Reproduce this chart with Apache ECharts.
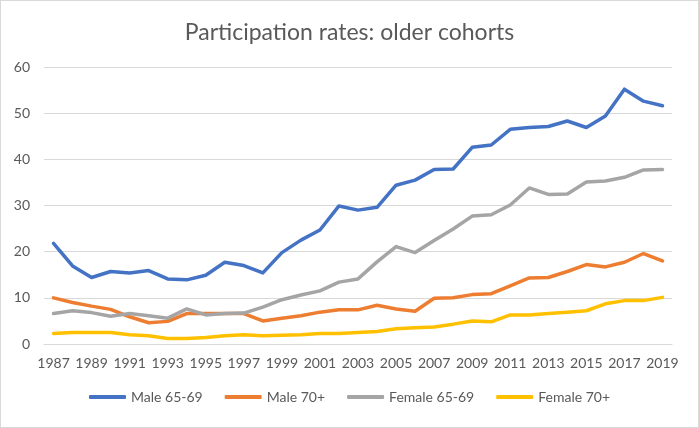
<!DOCTYPE html>
<html>
<head>
<meta charset="utf-8">
<script src="https://cdn.jsdelivr.net/npm/echarts@6/dist/echarts.min.js"></script>
<style>
html,body{margin:0;padding:0;background:#fff;}
#c{width:699px;height:428px;box-sizing:border-box;border:1px solid #d9d9d9;}
</style>
</head>
<body>
<div id="c"></div>
<script>
const years = ['1987','1988','1989','1990','1991','1992','1993','1994','1995','1996','1997','1998','1999','2000','2001','2002','2003','2004','2005','2006','2007','2008','2009','2010','2011','2012','2013','2014','2015','2016','2017','2018','2019'];
const male6569 = [21.8,16.9,14.4,15.7,15.4,15.9,14.1,13.9,14.9,17.7,17.0,15.4,19.8,22.5,24.7,29.9,29.0,29.6,34.4,35.5,37.8,37.9,42.6,43.1,46.5,46.9,47.1,48.3,46.9,49.4,55.2,52.6,51.6];
const male70 = [10.0,9.0,8.2,7.5,5.9,4.6,4.9,6.6,6.6,6.6,6.6,5.0,5.6,6.1,6.9,7.4,7.4,8.4,7.6,7.1,9.9,10.0,10.7,10.9,12.6,14.3,14.4,15.7,17.2,16.7,17.7,19.6,18.0];
const female6569 = [6.6,7.2,6.8,6.0,6.6,6.1,5.6,7.6,6.3,6.6,6.7,8.0,9.6,10.6,11.5,13.4,14.1,17.8,21.1,19.8,22.4,24.9,27.7,28.0,30.1,33.8,32.4,32.5,35.1,35.3,36.1,37.7,37.8];
const female70 = [2.3,2.5,2.5,2.5,2.0,1.8,1.2,1.2,1.4,1.8,2.0,1.8,1.9,2.0,2.3,2.3,2.5,2.7,3.3,3.5,3.7,4.3,5.0,4.8,6.3,6.3,6.6,6.9,7.2,8.7,9.4,9.4,10.1];
const seriesNames = ['Male 65-69','Male 70+','Female 65-69','Female 70+'];
const colors = ['#4472C4','#ED7D31','#A5A5A5','#FFC000'];
const dataSets = [male6569, male70, female6569, female70];

const chart = echarts.init(document.getElementById('c'));
const font = 'Lato, "Open Sans", sans-serif';
chart.setOption({
  animation: false,
  title: {
    text: 'Participation rates: older cohorts',
    left: 'center', top: 15,
    textStyle: { fontFamily: font, fontSize: 23, fontWeight: 'normal', color: '#595959' }
  },
  grid: { left: 43, right: 26, top: 66, bottom: 83, containLabel: false },
  legend: {
    bottom: 18, left: 'center',
    icon: 'roundRect',
    itemWidth: 37, itemHeight: 4, itemGap: 22,
    textStyle: { fontFamily: font, fontSize: 14, color: '#595959' },
    data: seriesNames
  },
  xAxis: {
    type: 'category', data: years, boundaryGap: true,
    axisLine: { lineStyle: { color: '#d9d9d9', width: 1 } },
    axisTick: { show: false },
    axisLabel: { interval: 1, margin: 12, fontFamily: font, fontSize: 14, color: '#595959' }
  },
  yAxis: {
    type: 'value', min: 0, max: 60, interval: 10,
    axisLine: { show: false }, axisTick: { show: false },
    splitLine: { lineStyle: { color: '#d9d9d9', width: 1 } },
    axisLabel: { margin: 14, fontFamily: font, fontSize: 14, color: '#595959' }
  },
  series: dataSets.map((d, i) => ({
    name: seriesNames[i], type: 'line', data: d,
    symbol: 'none', smooth: false,
    itemStyle: { color: colors[i] },
    lineStyle: { color: colors[i], width: 3.5, cap: 'round', join: 'round' }
  }))
});
</script>
</body>
</html>
